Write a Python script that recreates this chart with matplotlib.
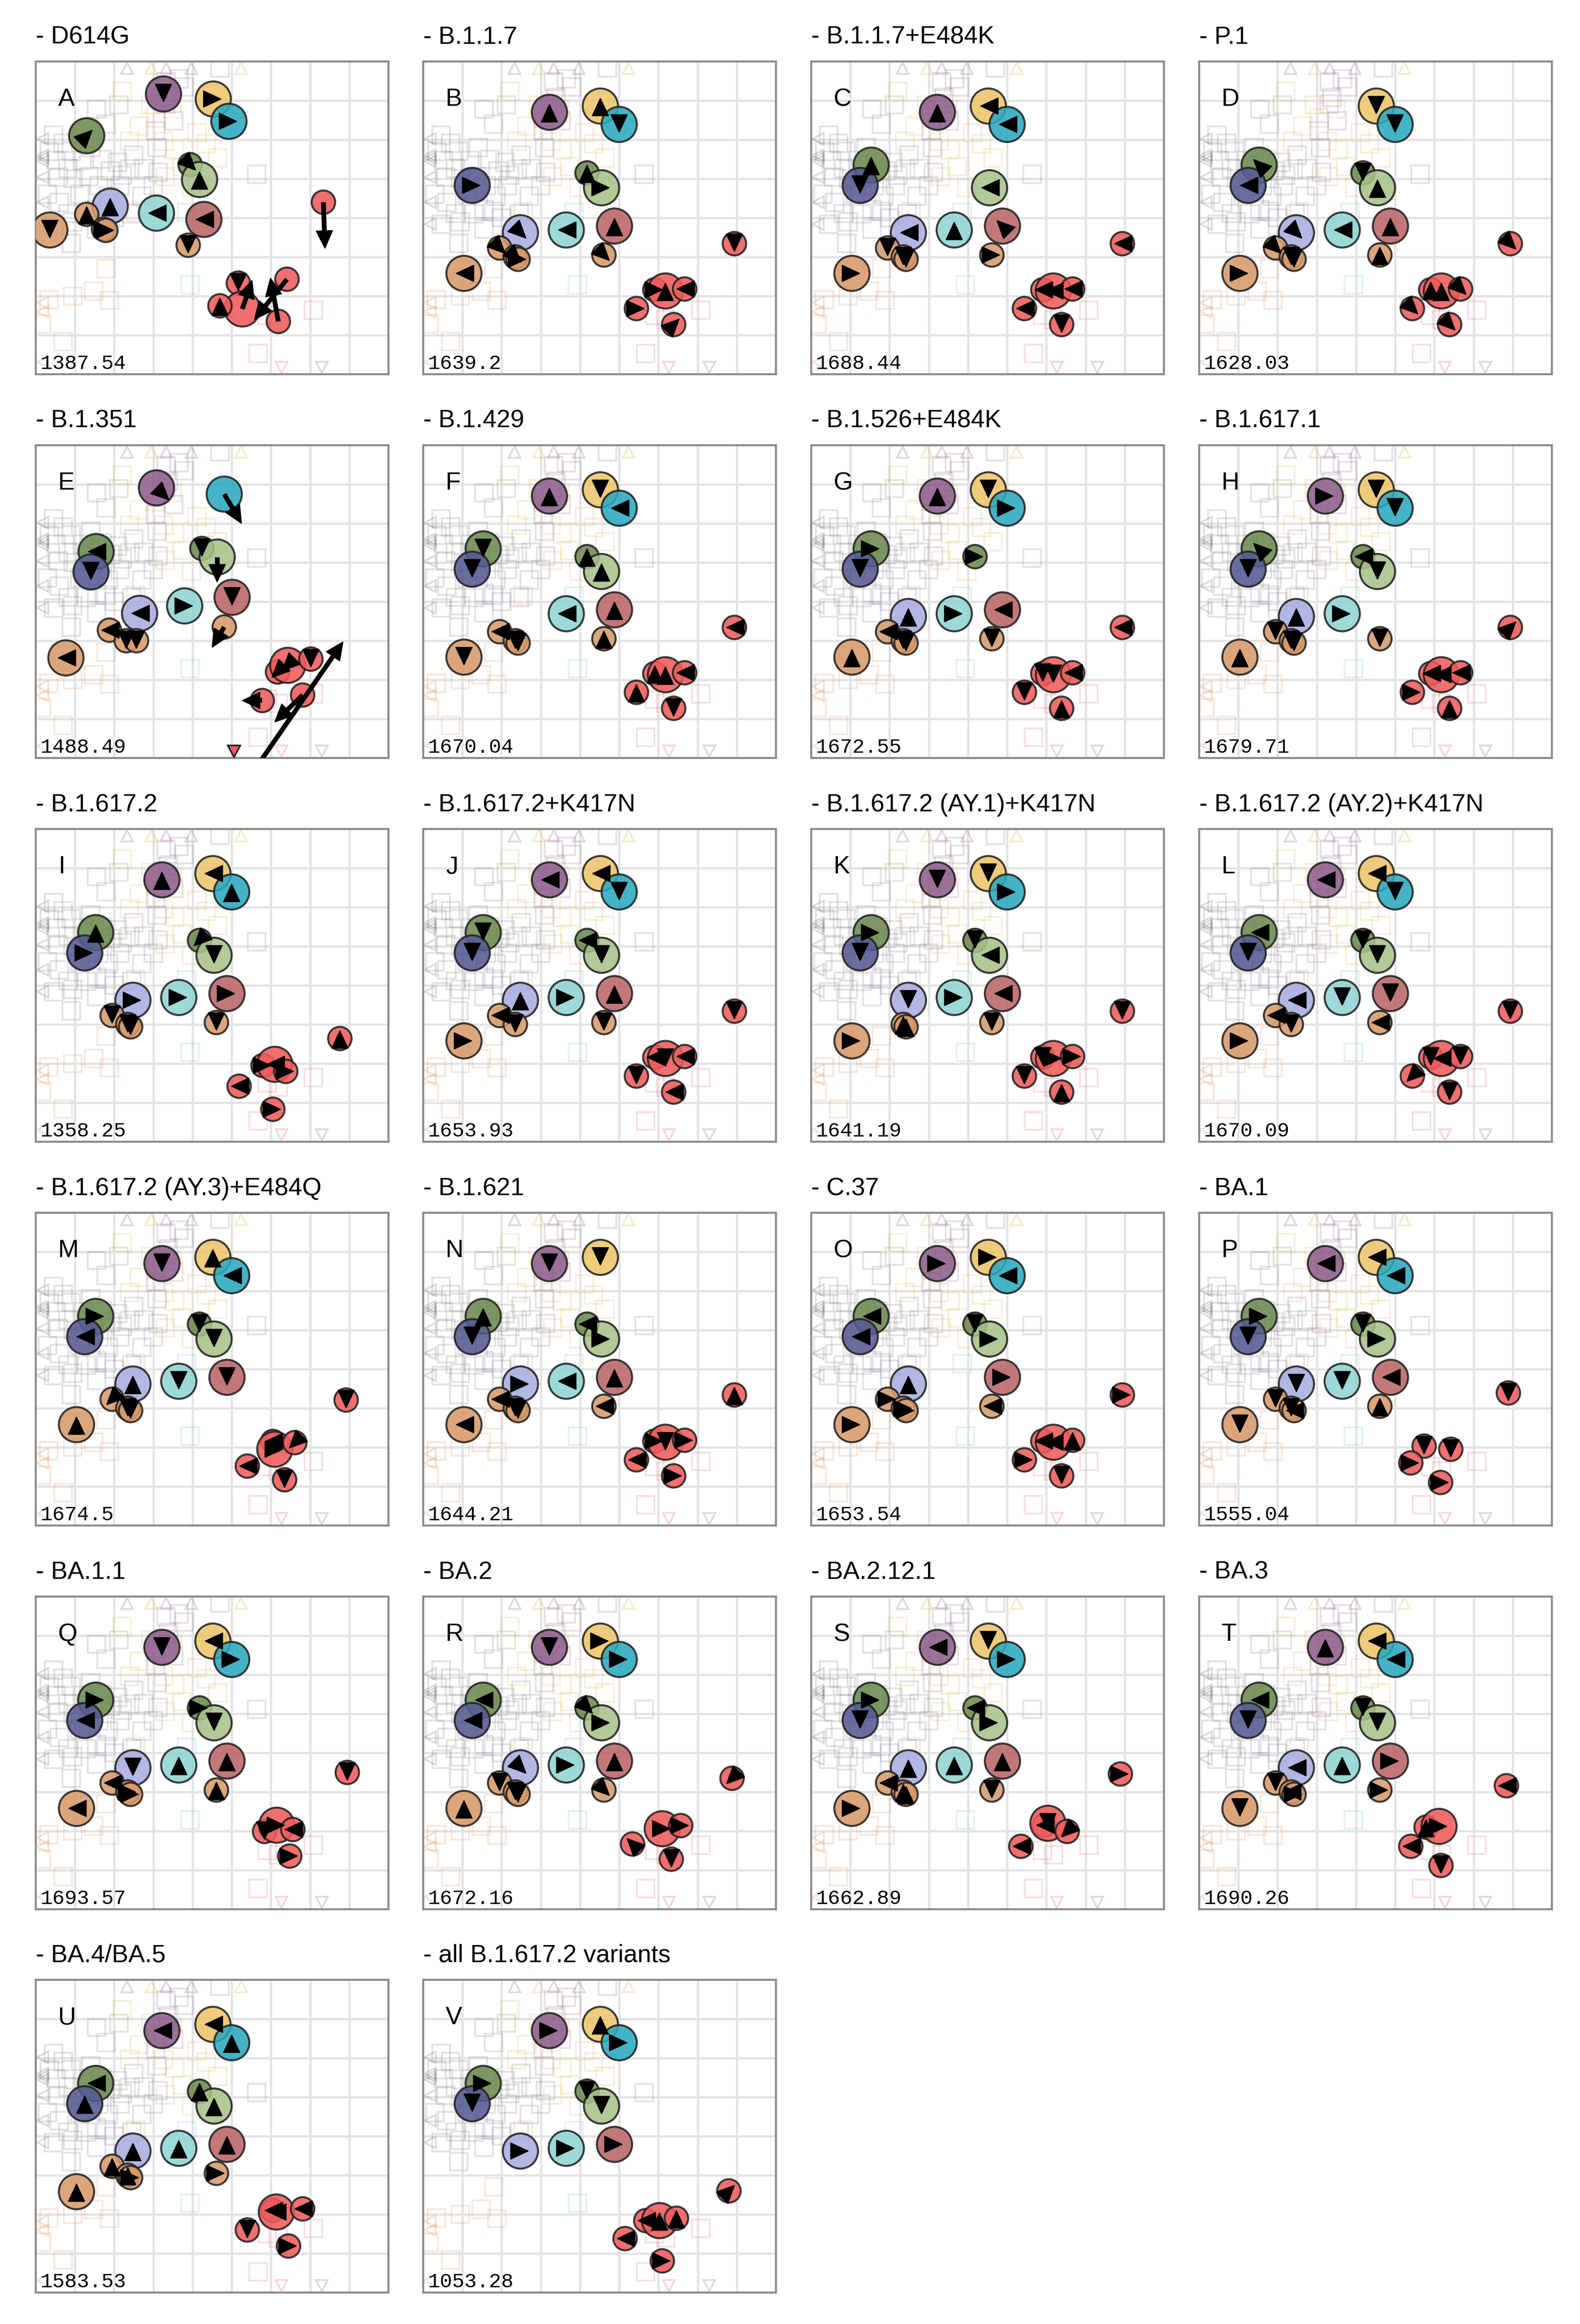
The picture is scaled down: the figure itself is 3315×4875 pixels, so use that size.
import numpy as np
import matplotlib
matplotlib.use("Agg")
import matplotlib.pyplot as plt
from matplotlib.patches import Circle, Polygon, Rectangle

# panel labels
titles = ["- D614G", "- B.1.1.7", "- B.1.1.7+E484K", "- P.1",
          "- B.1.351", "- B.1.429", "- B.1.526+E484K", "- B.1.617.1",
          "- B.1.617.2", "- B.1.617.2+K417N", "- B.1.617.2 (AY.1)+K417N", "- B.1.617.2 (AY.2)+K417N",
          "- B.1.617.2 (AY.3)+E484Q", "- B.1.621", "- C.37", "- BA.1",
          "- BA.1.1", "- BA.2", "- BA.2.12.1", "- BA.3",
          "- BA.4/BA.5", "- all B.1.617.2 variants"]
letters = list("ABCDEFGHIJKLMNOPQRSTUV")
stress = ["1387.54", "1639.2", "1688.44", "1628.03", "1488.49", "1670.04", "1672.55", "1679.71",
          "1358.25", "1653.93", "1641.19", "1670.09", "1674.5", "1644.21", "1653.54", "1555.04",
          "1693.57", "1672.16", "1662.89", "1690.26", "1583.53", "1053.28"]

# antigens (map units, y measured downward)
ag_color = ["#8E5E8B", "#EDC46B", "#2BA9BE", "#6B8A4E", "#555A93", "#6B8A4E", "#A8C28A",
            "#A9ADE0", "#8FD4D2", "#BA6567", "#D89A6A", "#D89A6A", "#D89A6A", "#D89A6A",
            "#D89A6A", "#EF5B5B", "#EF5B5B", "#EF5B5B", "#EF5B5B", "#EF5B5B", "#EF5B5B"]
ag_big = [1, 1, 1, 1, 1, 0, 1, 1, 1, 1, 1, 0, 0, 0, 0, 0, 0, 1, 0, 0, 0]
base_x = [3.22, 4.52, 5.00, 1.53, 1.25, 4.18, 4.55, 2.48, 3.65, 4.88, 1.04, 1.95, 2.35, 2.42, 4.61,
          7.94, 5.91, 6.18, 5.44, 6.67, 6.39]
base_y = [1.30, 1.14, 1.61, 2.65, 3.17, 2.85, 3.23, 4.38, 4.31, 4.21, 5.42, 4.77, 5.00, 5.06, 4.95,
          4.66, 5.84, 5.87, 6.32, 5.82, 6.73]

# panels with their own full layout
own_x = {0: [3.26, 4.53, 4.93, 1.30, 1.25, 3.94, 4.18, 1.90, 3.08, 4.29, 0.36, 1.30, 1.73, 1.79, 3.89,
             7.34, 5.17, 5.27, 4.70, 6.41, 6.19],
         4: [3.08, 4.52, 4.81, 1.54, 1.41, 4.24, 4.63, 2.65, 3.80, 5.01, 0.77, 1.88, 2.31, 2.57, 4.81,
             7.94, 6.17, 6.43, 5.78, 7.02, 6.81]}
own_y = {0: [0.83, 0.96, 1.53, 1.90, 3.17, 2.64, 3.02, 3.70, 3.88, 4.04, 4.31, 3.91, 4.29, 4.32, 4.70,
             3.60, 5.67, 6.33, 6.25, 5.57, 6.65],
         4: [1.09, 1.14, 1.25, 2.72, 3.24, 2.64, 2.86, 4.30, 4.11, 3.89, 5.44, 4.73, 5.00, 5.00, 4.65,
             4.66, 5.80, 5.63, 6.53, 5.47, 6.39]}

# red antigen positions (15..20) where they differ from the base layout
red_x = {8: [7.76, 5.80, 6.10, 5.19, 6.38, 6.05],
         12: [7.92, 6.05, 6.10, 5.40, 6.61, 6.35],
         15: [7.89, 5.74, 6.10, 5.40, 6.42, 6.16],
         16: [7.95, 5.84, 6.15, 5.44, 6.56, 6.48],
         17: [7.88, 5.91, 6.10, 5.34, 6.57, 6.33],
         18: [7.89, 5.95, 6.04, 5.35, 6.53, 6.39],
         19: [7.84, 5.79, 6.12, 5.40, 6.67, 6.17],
         20: [7.94, 6.05, 6.14, 5.40, 6.81, 6.45],
         21: [7.80, 5.68, 6.03, 5.15, 6.46, 6.10]}
red_y = {8: [5.36, 6.05, 6.02, 6.58, 6.20, 7.17],
         12: [4.79, 5.85, 6.05, 6.48, 5.88, 6.83],
         15: [4.61, 5.97, 6.00, 6.40, 6.05, 6.90],
         16: [4.50, 6.01, 5.85, 6.32, 5.96, 6.64],
         17: [4.65, 5.84, 5.94, 6.33, 5.86, 6.72],
         18: [4.54, 5.85, 5.80, 6.39, 6.01, 6.73],
         19: [4.84, 5.90, 5.88, 6.39, 5.82, 6.88],
         20: [4.66, 5.90, 5.94, 6.40, 5.86, 6.81],
         21: [5.40, 6.16, 6.16, 6.62, 6.10, 7.19]}

missing = {0: [4], 1: [3], 2: [5], 3: [0], 4: [1, 15], 5: [7], 6: [6], 7: [9], 8: [10],
           9: [13], 10: [11], 11: [13], 12: [14], 13: [2], 14: [8], 15: [17], 16: [18],
           17: [16], 18: [20], 19: [19], 20: [15], 21: [10, 11, 12, 13, 14]}

# direction of the short procrustes arrow heads, one letter per antigen
heads = [
    "d r r e . c u u l l d u r r d . d . u . .",
    "u u d . r u r c l u l c c r c d r u r l e",
    "u l l u d . l l u q r d d d r l l l l l d",
    ". d d q l d u c l u r c d d u c u u c c c",
    ". . . l d d . l r d l l d d . . z z . d .",
    "u d l d d u u . l u d l d d u l u u u l d",
    "u d r r d r . u r l u l d d d l d d d l u",
    "r d d q d l d u r . u d d d d e l l r l u",
    "u l u u r z d r r r . d d d d u r l l r r",
    "l l d d d l d u r u r l d . d d l d d l l",
    "d d r r d d l d r l r . u u d d d r d r u",
    "l l d l d d d l d d r l d . l d d l z d d",
    "d u l r l d d u d d u z d d . d l r l z d",
    "d d . u d l r r l u l l d d l u r d l r r",
    "r r l l l d r u . r r r r r l r l l r u d",
    "l l l r d d r d d l d d d l u d d . r d r",
    "d l r r l r d d u u l l r r u d d r . l r",
    "d r r l l c r c r u u d d d c z . r q r d",
    "l d r r d l r u u u r l u u d r l d l z .",
    "u l l l d d d l u r d d l r r l u r l . d",
    "l l u l u u u u u u u u u r r . l l d l r",
    "r u r r d d d r r r . . . . . e l u l u r",
]
head_angle = {"r": 0, "e": 45, "u": 90, "q": 135, "l": 180, "z": 225, "d": 270, "c": 315}

# long procrustes arrows: antigen -> arrow end
long_arrows = {0: {15: (7.38, 4.78), 17: (5.52, 5.60), 19: (5.58, 6.60), 20: (5.99, 5.54)},
               4: {0: (3.40, 1.40), 2: (5.25, 2.00), 6: (4.63, 3.50), 14: (4.50, 5.17),
                   18: (5.27, 6.53), 20: (6.10, 7.08)}}
free_arrows = {4: [((5.55, 8.35), (7.84, 5.03))]}
offmap_marks = {4: [(5.06, 15)]}

# sera (faint squares)
sr_x = [2.21, 2.94, 3.48, 4.12, 4.64, 3.73, 3.97, 2.39, 3.27, 3.06, 3.55, 2.65, 4.35, 3.30,
        5.64, 1.79, 2.12, 2.40,
        3.33, 3.79, 3.39, 3.31, 3.52, 3.06, 3.09, 3.12, 4.70, 3.65,
        0.45, 0.70, 1.55, 0.52, 0.82, 1.18, 2.09, 2.21, 0.58, 1.12, 1.61, 2.15, 0.82, 0.45, 0.94,
        1.55, 2.76, 3.00, 2.70, 1.85, 0.91, 1.35, 1.90, 0.30, 1.40, 2.45,
        0.35, 0.90, 1.70, 2.50, 0.60, 1.30, 2.00, 0.95,
        1.55, 1.79, 3.85, 3.94,
        0.33, 0.94, 1.88, 0.15, 0.70, 1.79, 1.48, 2.55,
        7.09, 5.91, 5.67, 6.18]
sr_y = [0.76, 1.11, 1.22, 1.82, 2.47, 2.69, 3.23, 2.04, 2.04, 1.44, 2.26, 1.65, 2.10, 2.95,
        2.88, 1.60, 1.11, 2.75,
        0.52, 0.65, 0.92, 1.09, 1.52, 1.77, 2.20, 2.83, 0.16, 0.45,
        1.88, 2.09, 1.22, 2.53, 2.74, 2.53, 2.58, 2.91, 2.96, 3.40, 3.18, 3.18, 3.89, 4.16, 4.10,
        3.78, 2.74, 3.18, 3.45, 3.45, 4.65, 2.95, 2.80, 3.40, 2.20, 3.90,
        2.30, 2.30, 2.50, 2.40, 3.60, 3.90, 4.00, 3.00,
        4.29, 3.83, 3.86, 5.71,
        6.09, 6.00, 6.11, 6.71, 7.17, 5.30, 5.87, 3.85,
        6.36, 6.49, 7.47, 6.60]
sr_col = ["y"] * 14 + ["G"] * 4 + ["p"] * 10 + ["k"] * 34 + ["b"] * 2 + ["c"] * 2 + ["o"] * 8 + ["r"] * 4
sr_colors = {"y": "#E0B040", "G": "#6B8A4E", "p": "#8E5E8B", "k": "#707070", "b": "#5A73AA",
             "c": "#66C4C2", "o": "#D8905A", "r": "#EF5B5B"}
# sera outside the map, drawn as triangles on the edge
top_x = [2.33, 2.95, 3.33, 3.97, 5.24]
top_c = ["p", "y", "p", "p", "y"]
left_y = [1.98, 2.40, 2.47, 2.55, 2.96, 3.60, 4.16, 6.17, 6.40, 7.69]
left_c = ["k", "k", "k", "k", "k", "k", "k", "o", "o", "o"]
bottom_x = [6.27, 7.30]
bottom_c = ["r", "k"]

FW, FH = 3315, 4875
col_left = [75, 888, 1702, 2516]
row_top = [129, 934, 1739, 2544, 3349, 4153]
BW, BH = 740, 656


def arrow_head(ax, tx, ty, ux, uy):
    hl, hw = 0.45, 0.42
    bx, by = tx - hl * ux, ty - hl * uy
    px, py = -uy, ux
    ax.add_patch(Polygon([(tx, ty), (bx + hw / 2 * px, by + hw / 2 * py),
                          (bx - hw / 2 * px, by - hw / 2 * py)],
                         closed=True, fc="black", ec="black", lw=0.4, zorder=6))
    return bx, by


def draw_panel(ax, p):
    ax.set_xlim(0, 9)
    ax.set_ylim(8, 0)
    ax.set_xticks([])
    ax.set_yticks([])
    for s in ax.spines.values():
        s.set_color("#8a8a8a")
        s.set_linewidth(1.0)
    for gx in range(1, 9):
        ax.axvline(gx, color="#e3e3e3", lw=1.1, zorder=0)
    for gy in range(1, 8):
        ax.axhline(gy, color="#e3e3e3", lw=1.1, zorder=0)

    for x, y, c in zip(sr_x, sr_y, sr_col):
        ax.add_patch(Rectangle((x - 0.225, y - 0.225), 0.45, 0.45, fill=False,
                               ec=sr_colors[c], alpha=0.2, lw=0.9, zorder=1))
    for x, c in zip(top_x, top_c):
        ax.add_patch(Polygon([(x, 0.03), (x - 0.15, 0.32), (x + 0.15, 0.32)], fill=False,
                             ec=sr_colors[c], alpha=0.25, lw=0.9, zorder=1))
    for y, c in zip(left_y, left_c):
        ax.add_patch(Polygon([(0.03, y), (0.32, y - 0.15), (0.32, y + 0.15)], fill=False,
                             ec=sr_colors[c], alpha=0.25, lw=0.9, zorder=1))
    for x, c in zip(bottom_x, bottom_c):
        ax.add_patch(Polygon([(x, 7.97), (x - 0.15, 7.68), (x + 0.15, 7.68)], fill=False,
                             ec=sr_colors[c], alpha=0.25, lw=0.9, zorder=1))

    xs = list(own_x.get(p, base_x))
    ys = list(own_y.get(p, base_y))
    if p in red_x:
        xs[15:] = red_x[p]
        ys[15:] = red_y[p]
    skip = missing.get(p, [])
    dirs = heads[p].split()
    longs = long_arrows.get(p, {})

    for i in range(len(xs)):
        if i in skip:
            continue
        r = 0.45 if ag_big[i] else 0.30
        ax.add_patch(Circle((xs[i], ys[i]), r, fc=ag_color[i], ec="#222222", lw=1.0,
                            alpha=0.88, zorder=3))
    for i in range(len(xs)):
        if i in skip:
            continue
        if i in longs:
            tx, ty = longs[i]
            d = np.hypot(tx - xs[i], ty - ys[i])
            ux, uy = (tx - xs[i]) / d, (ty - ys[i]) / d
            bx, by = arrow_head(ax, tx, ty, ux, uy)
            ax.plot([xs[i], bx], [ys[i], by], color="black", lw=2.4,
                    solid_capstyle="butt", zorder=6)
        elif dirs[i] != ".":
            a = np.radians(head_angle[dirs[i]])
            ux, uy = np.cos(a), -np.sin(a)
            arrow_head(ax, xs[i] + 0.2 * ux, ys[i] + 0.2 * uy, ux, uy)

    for (sx, sy), (tx, ty) in free_arrows.get(p, []):
        d = np.hypot(tx - sx, ty - sy)
        ux, uy = (tx - sx) / d, (ty - sy) / d
        bx, by = arrow_head(ax, tx, ty, ux, uy)
        ax.plot([sx, bx], [sy, by], color="black", lw=2.4, solid_capstyle="butt", zorder=6)
    for x, i in offmap_marks.get(p, []):
        ax.add_patch(Polygon([(x, 7.98), (x - 0.16, 7.68), (x + 0.16, 7.68)], fc=ag_color[i],
                             ec="#222222", lw=0.8, zorder=4))

    ax.text(0.57, 1.14, letters[p], fontsize=12.5, family="Liberation Sans",
            ha="left", va="baseline", zorder=7)
    ax.text(0.12, 7.86, stress[p], fontsize=10.3, family="Liberation Mono",
            ha="left", va="baseline", zorder=7)


fig = plt.figure(figsize=(FW / 300, FH / 300), dpi=300)
for p in range(len(titles)):
    row, col = divmod(p, 4)
    left, top = col_left[col], row_top[row]
    ax = fig.add_axes([left / FW, 1 - (top + BH) / FH, BW / FW, BH / FH])
    draw_panel(ax, p)
    fig.text(left / FW, 1 - (top - 37) / FH, titles[p], fontsize=12.5,
             family="Liberation Sans", ha="left", va="baseline")

fig.savefig("out.png", dpi=300, facecolor="white")
